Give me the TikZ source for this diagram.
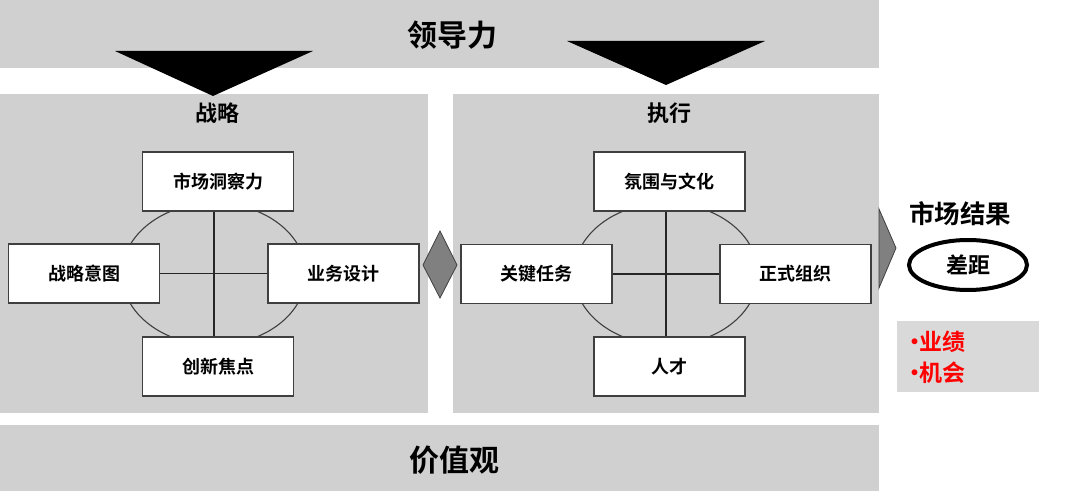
\documentclass[tikz,border=0pt]{standalone}
\usepackage{fontspec}
\setmainfont{Noto Sans CJK SC}[BoldFont={Noto Sans CJK SC Bold}]
\usepackage{xcolor}
\usepackage{tikz}
\usetikzlibrary{arrows.meta,positioning,calc,shapes.geometric}
\definecolor{bandgray}{HTML}{D0D0D0}
\definecolor{notegray}{HTML}{D9D9D9}
\definecolor{edgegray}{HTML}{3F3F3F}
\definecolor{markgray}{HTML}{808080}
\definecolor{hotred}{HTML}{FF0000}

\begin{document}
\begin{tikzpicture}[x=1pt,y=-1pt,
  box/.style={draw=edgegray,line width=1.2pt,fill=white,minimum width=151pt,minimum height=59pt,inner sep=0pt,font=\fontsize{18}{20}\selectfont\bfseries},
  head/.style={font=\fontsize{22}{26}\selectfont\bfseries,inner sep=0pt},
  bigtitle/.style={font=\fontsize{30}{34}\selectfont\bfseries,inner sep=0pt},
  cross/.style={draw=black!85,line width=1.2pt},
  ring/.style={draw=edgegray,line width=1.1pt},
  linkmark/.style={fill=markgray,draw=edgegray,line width=0.8pt},
  redline/.style={anchor=west,inner sep=0pt,text=hotred,font=\fontsize{23}{26}\selectfont\bfseries}
]
\useasboundingbox (0,0) rectangle (1080,497);
% bands and panels
\fill[bandgray] (0,0) rectangle (879,68);
\fill[bandgray] (0,94) rectangle (428,413);
\fill[bandgray] (453,94) rectangle (879,413);
\fill[bandgray] (0,425) rectangle (879,491);
\node[bigtitle] (lead) at (452,35) {领导力};
\node[bigtitle] (vals) at (454,460) {价值观};
\fill[black] (115,51) -- (313,51) -- (213,96) -- cycle;
\fill[black] (567,41) -- (765,41) -- (666,85) -- cycle;
% strategy
\node[head] (strat) at (217,113) {战略};
\coordinate (sc) at (214,274);
\draw[ring] (sc) ellipse [x radius=92, y radius=71];
\node[box] (mi) at (218,181.5) {市场洞察力};
\node[box] (si) at (84,273.5) {战略意图};
\node[box] (bd) at (343.5,273.5) {业务设计};
\node[box] (cf) at (218,366.5) {创新焦点};
\draw[cross] (sc |- mi.south) -- (sc |- cf.north);
\draw[cross] (si.east) -- (bd.west);
% execution
\node[head] (exec) at (669,113) {执行};
\coordinate (ec) at (666,274);
\draw[ring] (ec) ellipse [x radius=92, y radius=71];
\node[box] (cu) at (669.5,181.5) {氛围与文化};
\node[box] (kt) at (536.5,274) {关键任务};
\node[box] (fo) at (795.5,274) {正式组织};
\node[box] (ta) at (669.5,366.5) {人才};
\draw[cross] (ec |- cu.south) -- (ec |- ta.north);
\draw[cross] (kt.east) -- (fo.west);
% links
\draw[linkmark] (423,265) -- (440,231) -- (457,265) -- (440,298) -- cycle;
\draw[linkmark] (879,209) -- (896,248) -- (879,288) -- cycle;
% market result
\node[head,font=\fontsize{25.5}{28}\selectfont\bfseries] (mr) at (960,214) {市场结果};
\node[draw=black,line width=4pt,ellipse,minimum width=118pt,minimum height=50pt,inner sep=0pt,font=\fontsize{22}{26}\selectfont\bfseries] (gap) at (968,265) {差距};
\fill[notegray] (897,321) rectangle (1039,392);
\node[redline] (perf) at (903,342) {•\kern-7pt业绩};
\node[redline] (chance) at (903,373) {•\kern-7pt机会};
\end{tikzpicture}
\end{document}
